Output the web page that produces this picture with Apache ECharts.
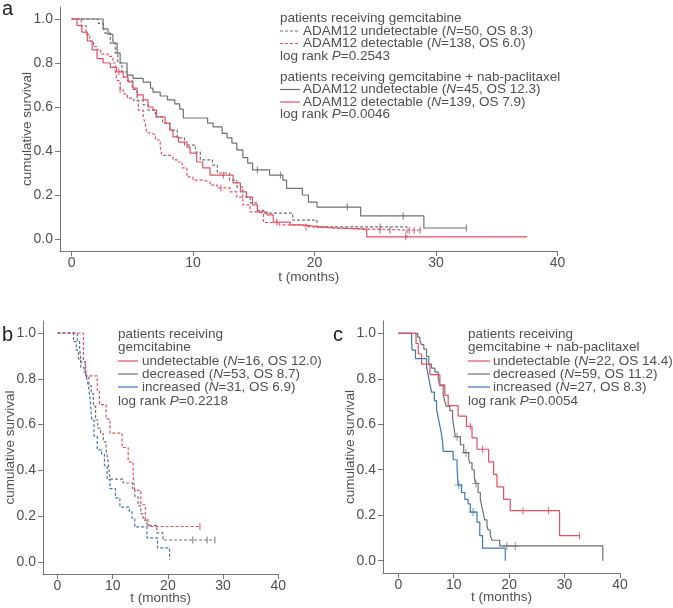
<!DOCTYPE html>
<html>
<head>
<meta charset="utf-8">
<script src="https://cdn.jsdelivr.net/npm/echarts@6/dist/echarts.min.js"></script>
<style>
  html, body { margin: 0; padding: 0; background: #fff; }
  #main { width: 673px; height: 608px; }
</style>
</head>
<body>
<div id="main"></div>
<script>
// ---- panel a: ADAM12 undetectable / detectable ----
const aGemUndetT = [0, 2.2, 2.6, 2.75, 3.2, 3.6, 3.8, 4.15, 4.6, 5.0, 5.4, 5.9, 6.3, 6.9, 7.5, 8.1, 8.7, 9.3, 10.2, 10.6, 11.6, 12.0, 13.0, 13.6, 14.1, 14.7, 15.3, 15.8, 18.2, 20.2, 27.6];
const aGemUndetS = [1, 0.98, 0.96, 0.936, 0.89, 0.845, 0.80, 0.76, 0.72, 0.68, 0.63, 0.61, 0.586, 0.555, 0.527, 0.495, 0.46, 0.427, 0.395, 0.36, 0.336, 0.30, 0.268, 0.236, 0.19, 0.164, 0.13, 0.118, 0.086, 0.055, 0.005];
const aGemUndetC = [25.4];

const aGemDetT = [0, 0.8, 1.2, 1.5, 1.8, 2.1, 2.4, 3.0, 3.4, 3.6, 3.75, 4.0, 4.25, 4.6, 5.1, 5.5, 5.9, 6.05, 6.2, 6.6, 6.9, 7.3, 7.45, 8.1, 8.35, 8.7, 9.1, 9.5, 10.0, 10.8, 11.4, 12.0, 13.05, 13.6, 14.1, 14.7, 15.3, 15.8, 17.1, 18.8, 19.6, 21.8, 24.3, 28.7];
const aGemDetS = [1, 0.97, 0.93, 0.90, 0.875, 0.86, 0.84, 0.83, 0.80, 0.76, 0.72, 0.68, 0.66, 0.64, 0.63, 0.586, 0.555, 0.527, 0.482, 0.473, 0.45, 0.418, 0.38, 0.373, 0.36, 0.35, 0.323, 0.282, 0.268, 0.259, 0.245, 0.232, 0.214, 0.19, 0.155, 0.123, 0.118, 0.075, 0.064, 0.055, 0.05, 0.045, 0.04, 0.04];
const aGemDetC = [4.0, 12.3, 25.4, 26.2, 27.8, 28.2, 28.7];

const aNabUndetT = [0, 2.6, 3.0, 3.4, 3.75, 4.0, 4.57, 5.06, 5.9, 6.5, 6.7, 7.3, 7.9, 8.5, 8.9, 9.2, 11.2, 11.65, 12.4, 12.8, 13.2, 13.6, 14.1, 14.5, 14.9, 16.3, 17.4, 17.7, 19.0, 19.5, 20.2, 23.8, 29.0, 32.5];
const aNabUndetS = [1, 0.955, 0.93, 0.89, 0.845, 0.80, 0.745, 0.73, 0.713, 0.686, 0.668, 0.65, 0.632, 0.614, 0.59, 0.55, 0.527, 0.51, 0.48, 0.46, 0.436, 0.405, 0.37, 0.345, 0.314, 0.29, 0.268, 0.23, 0.20, 0.168, 0.145, 0.105, 0.05, 0.05];
const aNabUndetC = [15.3, 17.2, 22.7, 27.3, 32.5];

const aNabDetT = [0, 0.45, 0.85, 1.3, 1.7, 2.1, 2.6, 3.2, 3.7, 4.25, 4.65, 5.06, 5.4, 5.9, 6.3, 6.7, 7.0, 7.7, 8.1, 8.35, 8.8, 9.5, 9.75, 10.3, 10.8, 11.4, 13.3, 13.9, 14.4, 14.9, 15.3, 16.1, 16.6, 18.0, 19.05, 20.4, 21.8, 24.3, 37.5];
const aNabDetS = [1, 0.97, 0.94, 0.90, 0.86, 0.82, 0.80, 0.78, 0.76, 0.736, 0.714, 0.686, 0.655, 0.632, 0.60, 0.586, 0.555, 0.527, 0.495, 0.464, 0.44, 0.418, 0.39, 0.35, 0.323, 0.29, 0.255, 0.214, 0.19, 0.155, 0.123, 0.11, 0.077, 0.064, 0.055, 0.05, 0.045, 0.01, 0.01];
const aNabDetC = [3.9, 12.5, 16.9, 19.3, 27.5];

// ---- panel b: gemcitabine ----
const bUndetT = [0, 4.7, 5.1, 7.2, 7.6, 8.8, 9.5, 11.7, 12.8, 13.7, 14.0, 15.1, 15.9, 16.4, 25.8];
const bUndetS = [1, 0.875, 0.8125, 0.75, 0.6875, 0.625, 0.5625, 0.5, 0.4375, 0.375, 0.3125, 0.25, 0.1875, 0.155, 0.155];
const bUndetC = [25.8];

const bDecrT = [0, 2.9, 3.4, 3.8, 4.2, 4.8, 5.2, 5.7, 6.1, 6.5, 6.9, 7.3, 7.8, 8.3, 8.8, 9.1, 9.3, 9.5, 11.9, 13.6, 14.0, 14.6, 15.1, 15.5, 16.2, 18.0, 19.1, 28.5];
const bDecrS = [1, 0.962, 0.925, 0.887, 0.85, 0.83, 0.811, 0.77, 0.735, 0.68, 0.62, 0.585, 0.56, 0.525, 0.49, 0.45, 0.41, 0.362, 0.345, 0.32, 0.284, 0.245, 0.21, 0.183, 0.16, 0.127, 0.096, 0.096];
const bDecrC = [24.5, 27.1, 28.5];

const bIncrT = [0, 3.6, 4.0, 4.3, 5.0, 5.3, 5.6, 5.9, 6.2, 6.6, 7.2, 8.0, 8.5, 9.0, 9.5, 10.5, 11.3, 13.0, 13.5, 14.0, 16.2, 18.1, 20.3];
const bIncrS = [1, 0.968, 0.935, 0.87, 0.84, 0.80, 0.77, 0.71, 0.62, 0.55, 0.49, 0.47, 0.42, 0.36, 0.32, 0.28, 0.24, 0.22, 0.19, 0.153, 0.105, 0.062, 0.01];

// ---- panel c: gemcitabine + nab-paclitaxel ----
const cUndetT = [0, 3.2, 3.6, 4.2, 5.7, 7.5, 8.4, 9.0, 10.8, 12.3, 13.3, 14.2, 16.3, 17.2, 17.8, 19.0, 20.2, 29.1, 32.7];
const cUndetS = [1, 0.955, 0.909, 0.864, 0.818, 0.773, 0.727, 0.682, 0.636, 0.591, 0.54, 0.49, 0.435, 0.38, 0.325, 0.27, 0.22, 0.11, 0.11];
const cUndetC = [13.0, 15.2, 22.5, 27.1, 32.7];

const cDecrT = [0, 3.5, 3.9, 4.2, 4.6, 5.1, 5.5, 6.0, 6.6, 7.2, 7.5, 8.1, 8.4, 8.7, 9.3, 9.8, 10.0, 10.3, 11.2, 11.8, 12.7, 12.9, 13.3, 13.7, 13.9, 14.4, 14.8, 15.1, 15.4, 15.6, 16.0, 16.2, 16.6, 16.9, 18.3, 36.9];
const cDecrS = [1, 0.983, 0.966, 0.95, 0.93, 0.898, 0.864, 0.847, 0.83, 0.80, 0.77, 0.73, 0.70, 0.678, 0.66, 0.627, 0.59, 0.545, 0.51, 0.475, 0.45, 0.43, 0.40, 0.37, 0.34, 0.30, 0.27, 0.236, 0.2, 0.18, 0.155, 0.135, 0.11, 0.09, 0.065, 0];
const cDecrC = [10.6, 12.2, 14.0, 19.6, 21.1];

const cIncrT = [0, 2.4, 2.5, 3.1, 5.1, 5.4, 5.7, 6.0, 6.5, 6.9, 7.2, 7.5, 7.8, 8.0, 8.1, 9.9, 10.6, 10.7, 10.8, 11.4, 12.0, 12.6, 13.0, 14.2, 14.7, 15.2, 19.3];
const cIncrS = [1, 0.963, 0.926, 0.889, 0.852, 0.815, 0.778, 0.741, 0.704, 0.667, 0.63, 0.593, 0.556, 0.519, 0.481, 0.444, 0.407, 0.37, 0.333, 0.30, 0.27, 0.25, 0.214, 0.17, 0.11, 0.055, 0];
const cIncrC = [10.9, 13.5];

const xTicks = [0, 10, 20, 30, 40];
const yTicks = [0, 0.2, 0.4, 0.6, 0.8, 1.0];

const RED = '#e5505f';
const GREY = '#707070';
const BLUE = '#3f77b6';
const TXT = '#505050';
const FONT = '"Liberation Sans", Arial, sans-serif';
const FS = 13.5;
const DASH = [3, 2];
const PLUS = 'path://M4.4,0H5.6V4.4H10V5.6H5.6V10H4.4V5.6H0V4.4H4.4Z';

const chart = echarts.init(document.getElementById('main'));

function km(T, S) {
  return T.map((t, i) => [t, S[i]]);
}
function survAt(T, S, t) {
  let s = 1;
  for (let i = 0; i < T.length; i++) {
    if (T[i] <= t) s = S[i];
  }
  return s;
}
function curve(idx, T, S, color, dashed) {
  return {
    type: 'line', xAxisIndex: idx, yAxisIndex: idx, step: 'end',
    data: km(T, S), symbol: 'none', silent: true,
    lineStyle: { color: color, width: 1.2, type: dashed ? DASH : 'solid' }
  };
}
function marks(idx, T, S, C, color, plus) {
  return {
    type: 'scatter', xAxisIndex: idx, yAxisIndex: idx, silent: true,
    data: C.map(t => [t, survAt(T, S, t)]),
    symbol: plus ? PLUS : 'rect',
    symbolSize: plus ? 8 : [1.2, 7],
    itemStyle: { color: color }
  };
}
function xAx(idx, min, gap) {
  return {
    type: 'value', gridIndex: idx, min: min, max: 40,
    name: 't (months)', nameLocation: 'middle', nameGap: gap, nameMoveOverlap: false,
    nameTextStyle: { color: TXT, fontSize: FS, fontFamily: FONT },
    axisLine: { show: true, onZero: false, lineStyle: { color: '#777', width: 1 } },
    axisTick: { show: true, length: 5, customValues: xTicks, lineStyle: { color: '#777' } },
    axisLabel: { customValues: xTicks, color: TXT, fontSize: 14, fontFamily: FONT, margin: 5 },
    splitLine: { show: false }
  };
}
function yAx(idx, min, max) {
  return {
    type: 'value', gridIndex: idx, min: min, max: max,
    name: 'cumulative survival', nameLocation: 'middle', nameGap: 26, nameMoveOverlap: false,
    nameTextStyle: { color: TXT, fontSize: FS, fontFamily: FONT },
    axisLine: { show: true, onZero: false, lineStyle: { color: '#777', width: 1 } },
    axisTick: { show: true, length: 5, customValues: yTicks, lineStyle: { color: '#777' } },
    axisLabel: { customValues: yTicks, color: TXT, fontSize: 14, fontFamily: FONT, margin: 7,
      formatter: v => v.toFixed(1) },
    splitLine: { show: false }
  };
}

// legend drawn as text + short line samples
function txt(x, y, text) {
  return {
    type: 'text', x: x, y: y,
    style: {
      text: text, fill: TXT, font: FS + 'px ' + FONT, verticalAlign: 'middle',
      rich: { i: { fontStyle: 'italic', fill: TXT, fontSize: FS, fontFamily: FONT } }
    }
  };
}
function sample(x1, x2, y, color, dashed) {
  return {
    type: 'line', shape: { x1: x1, y1: y, x2: x2, y2: y },
    style: { stroke: color, lineWidth: 1.2, lineDash: dashed ? DASH : null }
  };
}
function panelLabel(x, y, t) {
  return { type: 'text', x: x, y: y, style: { text: t, fill: '#222', font: '20px ' + FONT, verticalAlign: 'middle' } };
}

const graphics = [
  panelLabel(2, 9, 'a'), panelLabel(2, 335, 'b'), panelLabel(333, 335, 'c'),
  // panel a
  txt(280, 18, 'patients receiving gemcitabine'),
  sample(280, 300, 31, GREY, true), txt(303, 31, 'ADAM12 undetectable ({i|N}=50, OS 8.3)'),
  sample(280, 300, 43.5, RED, true), txt(303, 43.5, 'ADAM12 detectable ({i|N}=138, OS 6.0)'),
  txt(280, 56, 'log rank {i|P}=0.2543'),
  txt(280, 77, 'patients receiving gemcitabine + nab-paclitaxel'),
  sample(280, 300, 89.5, GREY, false), txt(303, 89.5, 'ADAM12 undetectable ({i|N}=45, OS 12.3)'),
  sample(280, 300, 102, RED, false), txt(303, 102, 'ADAM12 detectable ({i|N}=139, OS 7.9)'),
  txt(280, 114.5, 'log rank {i|P}=0.0046'),
  // panel b
  txt(118, 334, 'patients receiving'),
  txt(118, 347, 'gemcitabine'),
  sample(118, 138, 361, RED, false), txt(142, 361, 'undetectable ({i|N}=16, OS 12.0)'),
  sample(118, 138, 374, GREY, false), txt(142, 374, 'decreased ({i|N}=53, OS 8.7)'),
  sample(118, 138, 387, BLUE, false), txt(142, 387, 'increased ({i|N}=31, OS 6.9)'),
  txt(118, 401, 'log rank {i|P}=0.2218'),
  // panel c
  txt(468, 334, 'patients receiving'),
  txt(468, 347, 'gemcitabine + nab-paclitaxel'),
  sample(468, 490, 361, RED, false), txt(493, 361, 'undetectable ({i|N}=22, OS 14.4)'),
  sample(468, 490, 374, GREY, false), txt(493, 374, 'decreased ({i|N}=59, OS 11.2)'),
  sample(468, 490, 387, BLUE, false), txt(493, 387, 'increased ({i|N}=27, OS 8.3)'),
  txt(468, 401, 'log rank {i|P}=0.0054')
];

const option = {
  backgroundColor: '#fff',
  animation: false,
  grid: [
    { left: 60, top: 7, width: 497.5, height: 244, outerBoundsMode: 'none', containLabel: false },
    { left: 43, top: 321, width: 235.3, height: 253, outerBoundsMode: 'none', containLabel: false },
    { left: 383, top: 321, width: 237, height: 252, outerBoundsMode: 'none', containLabel: false }
  ],
  xAxis: [xAx(0, -0.95, 19), xAx(1, -2.63, 17), xAx(2, -2.76, 17)],
  yAxis: [yAx(0, -0.0545, 1.0545), yAx(1, -0.0524, 1.0524), yAx(2, -0.054, 1.054)],
  series: [
    curve(0, aGemUndetT, aGemUndetS, GREY, true),
    marks(0, aGemUndetT, aGemUndetS, aGemUndetC, GREY, false),
    curve(0, aNabUndetT, aNabUndetS, GREY, false),
    marks(0, aNabUndetT, aNabUndetS, aNabUndetC, GREY, false),
    curve(0, aGemDetT, aGemDetS, RED, true),
    marks(0, aGemDetT, aGemDetS, aGemDetC, RED, false),
    curve(0, aNabDetT, aNabDetS, RED, false),
    marks(0, aNabDetT, aNabDetS, aNabDetC, RED, false),

    curve(1, bDecrT, bDecrS, GREY, true),
    marks(1, bDecrT, bDecrS, bDecrC, GREY, false),
    curve(1, bIncrT, bIncrS, BLUE, true),
    curve(1, bUndetT, bUndetS, RED, true),
    marks(1, bUndetT, bUndetS, bUndetC, RED, false),

    curve(2, cDecrT, cDecrS, GREY, false),
    marks(2, cDecrT, cDecrS, cDecrC, GREY, true),
    curve(2, cIncrT, cIncrS, BLUE, false),
    marks(2, cIncrT, cIncrS, cIncrC, BLUE, true),
    curve(2, cUndetT, cUndetS, RED, false),
    marks(2, cUndetT, cUndetS, cUndetC, RED, false)
  ],
  graphic: graphics
};

chart.setOption(option);
</script>
</body>
</html>
